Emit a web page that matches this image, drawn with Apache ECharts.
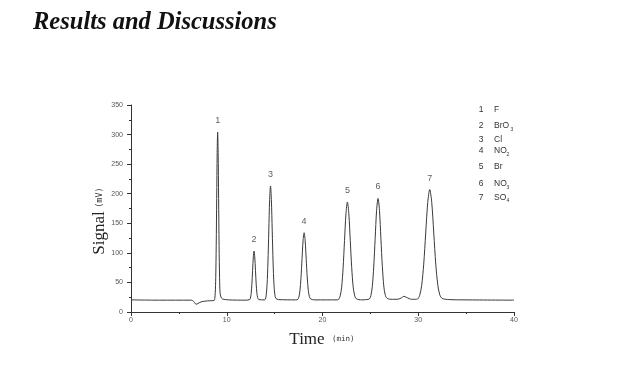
<!DOCTYPE html>
<html>
<head>
<meta charset="utf-8">
<script src="https://cdn.jsdelivr.net/npm/echarts@6/dist/echarts.min.js"></script>
<style>html,body{margin:0;padding:0;background:#fff}#c{width:640px;height:370px}</style>
</head>
<body>
<div id="c"></div>
<script>
var timeMin = [0,3,6.3,6.6,6.8,7.0,7.4,8.0,8.7,
  8.75,8.8,8.85,8.9,8.95,9.0,9.05,9.1,9.15,9.2,9.25,9.3,9.4,9.55,10.2,
  12.0,12.4,12.475,12.55,12.625,12.7,12.775,12.85,12.925,13.0,13.075,13.15,13.225,13.35,
  13.9,14.03,14.12,14.21,14.3,14.39,14.48,14.57,14.66,14.75,14.84,14.93,15.02,15.13,15.4,
  17.2,17.42,17.53,17.64,17.75,17.86,17.97,18.08,18.19,18.3,18.41,18.52,18.63,18.76,19.2,
  21.6,21.7,21.85,22.0,22.15,22.3,22.45,22.6,22.75,22.9,23.05,23.2,23.35,23.52,24.1,
  24.6,24.9,25.05,25.2,25.35,25.5,25.65,25.8,25.95,26.1,26.25,26.4,26.55,26.75,27.3,
  27.8,28.2,28.5,28.8,29.3,29.7,
  29.94,30.15,30.36,30.57,30.78,30.99,31.2,31.41,31.62,31.83,32.04,32.25,32.5,33.2,35,40];
var signalMV = [20.5,20,20,17,13,14.5,17.5,18.8,19.8,
  23,32.5,58,112,192,270,304,270,192,112,58,33,25,22,20.5,
  20,21,23.7,31.2,47,70.4,93.2,103,93.2,70.4,47,31.5,24.5,21,
  20.5,21.5,28.5,46,82.7,137,190,213,190,137,83,47,29.5,23,21,
  20.5,21.3,25,35.4,57,89,120.5,134,120.5,89,57.5,36,26,22,20.5,
  20.5,21.8,27.3,42,74,121,166,186,166,121,75,43,28.5,22.5,20.5,
  21,22,27.6,43,76,124,172,192,172,124,77,44,29,23,21.5,
  21.5,23.5,26.5,24.5,21.5,21.5,
  22,28.2,45.2,80.8,133.5,185,207,185,133.5,81,46,29,23,21,20.5,20];
var peakTimes = [9.05,12.85,14.57,18.08,22.6,25.8,31.2];
var peakLabels = ['1','2','3','4','5','6','7'];
var legendNums = ['1','2','3','4','5','6','7'];
var legendIons = ['F','BrO','Cl','NO','Br','NO','SO'];
var legendSubs = ['','3','','2','','3','4'];
var legendRowY = [110,126,140,151,166.5,184,197.5];
var xTicks = [0,10,20,30,40];
var yTicks = [0,50,100,150,200,250,300,350];

var lineData = timeMin.map(function(t,i){return [t, signalMV[i]];});
var peakData = peakTimes.map(function(t,i){
  var idx = timeMin.indexOf(t);
  return {value:[t, signalMV[idx]], label:{formatter: peakLabels[i]}};
});

var graphics = [];
var ionWidths = {'BrO':16,'NO':12,'SO':12};
legendNums.forEach(function(n,i){
  var y = legendRowY[i];
  graphics.push({type:'text', x:481, y:y, style:{text:n, fill:'#333', font:'8.5px "Liberation Sans"', textAlign:'center', textVerticalAlign:'middle'}});
  graphics.push({type:'text', x:494, y:y, style:{text:legendIons[i], fill:'#333', font:'8.5px "Liberation Sans"', textAlign:'left', textVerticalAlign:'middle'}});
  if (legendSubs[i]) {
    graphics.push({type:'text', x:494 + ionWidths[legendIons[i]] + 0.5, y:y+3.5, style:{text:legendSubs[i], fill:'#333', font:'5px "Liberation Sans"', textAlign:'left', textVerticalAlign:'middle'}});
  }
});
graphics.push({type:'text', x:100, y:221, rotation:Math.PI/2, style:{
  text:'{a|Signal} {b|(mV)}', textAlign:'center', textVerticalAlign:'middle',
  rich:{a:{fontFamily:'Liberation Serif', fontSize:17, fill:'#222'}, b:{fontFamily:'DejaVu Sans Mono', fontSize:8.5, fill:'#333'}}
}});
graphics.push({type:'text', x:307, y:340, style:{text:'Time', fill:'#222', font:'17px "Liberation Serif"', textAlign:'center', textVerticalAlign:'middle'}});
graphics.push({type:'text', x:332, y:339, style:{text:'(min)', fill:'#333', font:'7.5px "DejaVu Sans Mono"', textAlign:'left', textVerticalAlign:'middle'}});

var chart = echarts.init(document.getElementById('c'), null, {renderer:'canvas'});
chart.setOption({
  animation:false,
  backgroundColor:'#fff',
  title:{text:'Results and Discussions', left:33, top:10, padding:0,
    textStyle:{fontFamily:'Liberation Serif', fontStyle:'italic', fontWeight:'bold', fontSize:24.5, color:'#111'}},
  grid:{left:131, right:126, top:105, bottom:58},
  xAxis:{type:'value', min:xTicks[0], max:xTicks[xTicks.length-1], interval:10,
    axisLine:{show:true, lineStyle:{color:'#333', width:1}},
    axisTick:{show:true, inside:false, length:4, lineStyle:{color:'#333'}},
    minorTick:{show:true, splitNumber:2, length:2, lineStyle:{color:'#333'}},
    splitLine:{show:false},
    axisLabel:{fontSize:7, color:'#555', margin:5, fontFamily:'Liberation Sans'}},
  yAxis:{type:'value', min:yTicks[0], max:yTicks[yTicks.length-1], interval:50,
    axisLine:{show:true, lineStyle:{color:'#333', width:1}},
    axisTick:{show:true, inside:false, length:4, lineStyle:{color:'#333'}},
    minorTick:{show:true, splitNumber:2, length:2, lineStyle:{color:'#333'}},
    splitLine:{show:false},
    axisLabel:{fontSize:7, color:'#555', margin:8, fontFamily:'Liberation Sans'}},
  graphic:graphics,
  series:[
    {type:'line', data:lineData, showSymbol:false, smooth:0.3,
      lineStyle:{color:'#3a3a3a', width:1}, silent:true},
    {type:'scatter', data:peakData, symbolSize:0, silent:true,
      label:{show:true, position:'top', distance:7, fontSize:9, color:'#333', fontFamily:'Liberation Sans'}}
  ]
});
</script>
</body>
</html>
